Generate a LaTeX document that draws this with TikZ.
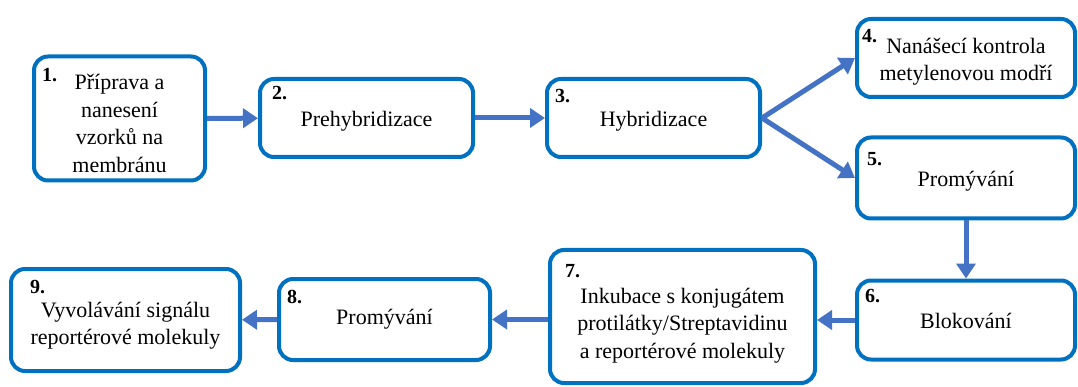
\documentclass[tikz,border=0pt]{standalone}
\usepackage{fontspec}
\newfontfamily\boxfont{LiberationSerif}[Extension=.ttf,UprightFont=*-Regular,BoldFont=*-Bold]
\usetikzlibrary{arrows.meta}
\definecolor{boxblue}{HTML}{0070C0}
\definecolor{arrowblue}{HTML}{4472C4}

\begin{document}
\begin{tikzpicture}[x=1pt,y=1pt,
	round/.style={draw=boxblue,line width=4pt,rounded corners=14pt,fill=white,align=center,inner sep=2pt,font=\boxfont\fontsize{22}{27.5}\selectfont},
	oneline/.style={text height=22pt,text depth=5pt},
	num/.style={anchor=base west,inner sep=0pt,font=\boxfont\bfseries\fontsize{20}{22}\selectfont},
	flow/.style={draw=arrowblue,line width=5pt,-{Triangle[length=15pt,width=19pt]}}]

	\useasboundingbox (0,0) rectangle (1078,-387);

	\node[round,minimum width=171pt,minimum height=124pt] (prep) at (119.5,-118.5) {\rule{0pt}{25pt}Příprava a\\nanesení\\vzorků na\\membránu};
	\node[round,oneline,minimum width=213pt,minimum height=78pt] (prehyb) at (366.5,-118) {Prehybridizace};
	\node[round,oneline,minimum width=213pt,minimum height=78pt] (hyb) at (653.5,-118) {Hybridizace};
	\node[round,minimum width=218pt,minimum height=78pt] (control) at (966,-58) {\rule{0pt}{23pt}Nanášecí kontrola\\metylenovou modří};
	\node[round,oneline,minimum width=218pt,minimum height=81pt] (wash) at (966,-178) {Promývání};
	\node[round,oneline,minimum width=218pt,minimum height=79pt] (block) at (966,-320) {Blokování};
	\node[round,minimum width=265pt,minimum height=133pt] (incub) at (682.5,-316.5) {\rule{0pt}{33pt}Inkubace s konjugátem\\protilátky/Streptavidinu\\a reportérové molekuly};
	\node[round,minimum width=211pt,minimum height=81pt] (wash2) at (384.5,-319.5) {Promývání};
	\node[round,minimum width=229pt,minimum height=102pt] (signal) at (125.5,-320) {\rule{0pt}{27pt}Vyvolávání signálu\\reportérové molekuly};

	\node[num] (n1) at ([shift={(10,-27)}]prep.north west) {1.};
	\node[num] (n2) at ([shift={(14,-23)}]prehyb.north west) {2.};
	\node[num] (n3) at ([shift={(10,-26)}]hyb.north west) {3.};
	\node[num] (n4) at ([shift={(7,-26)}]control.north west) {4.};
	\node[num] (n5) at ([shift={(12,-30)}]wash.north west) {5.};
	\node[num] (n6) at ([shift={(10,-24)}]block.north west) {6.};
	\node[num] (n7) at ([shift={(17,-29)}]incub.north west) {7.};
	\node[num] (n8) at ([shift={(10,-26)}]wash2.north west) {8.};
	\node[num] (n9) at ([shift={(21,-26)}]signal.north west) {9.};

	\draw[flow] (prep) -- (prehyb);
	\draw[flow] (prehyb) -- (hyb);
	\draw[flow] (hyb.east) -- (control.west);
	\draw[flow] (hyb.east) -- (wash.west);
	\draw[flow] (wash) -- (block);
	\draw[flow] (block.west) -- (block.west -| incub.east);
	\draw[flow] (incub.west |- wash2.east) -- (wash2.east);
	\draw[flow] (wash2) -- (signal);

\end{tikzpicture}
\end{document}
